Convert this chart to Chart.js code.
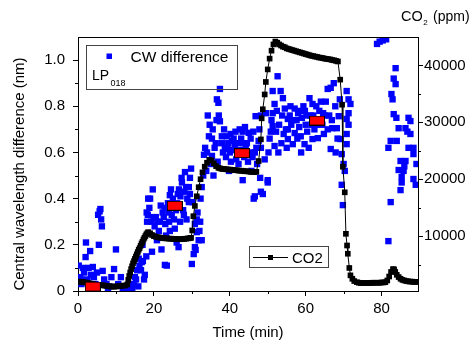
<!DOCTYPE html>
<html>
<head>
<meta charset="utf-8">
<script src="https://cdn.jsdelivr.net/npm/chart.js@4"></script>
<style>
  body { margin: 0; background: #fff; }
  #wrap { width: 473px; height: 342px; }
</style>
</head>
<body>
<div id="wrap"><canvas id="chart" width="473" height="342"></canvas></div>
<script>
// CW difference scatter (time in min, difference in nm)
const cwTime = [
  0.2,0.6,0.9,1.3,1.6,2.0,2.1,2.5,2.8,3.2,
  3.4,3.9,4.2,4.6,5.0,5.3,5.5,5.7,5.9,6.1,
  6.3,6.5,6.9,7.5,8.2,8.8,9.5,10.0,10.6,11.3,
  11.8,12.4,12.9,1.0,4.8,7.9,13.5,14.0,14.3,14.8,
  15.0,15.3,15.6,15.9,16.2,16.6,16.8,17.1,17.4,17.6,
  18.0,18.1,18.2,18.4,18.5,18.8,19.0,19.3,19.5,19.7,
  19.9,16.0,17.0,20.2,20.5,20.9,21.3,21.8,22.0,22.3,
  22.6,22.9,23.2,23.4,23.7,24.0,24.2,24.2,24.7,25.0,
  25.5,25.8,26.0,26.3,26.6,26.9,27.3,27.4,27.7,27.9,
  28.2,28.5,28.8,29.2,29.2,29.5,29.8,30.0,30.2,30.5,
  30.8,30.8,31.0,31.3,31.3,31.8,32.0,32.3,32.6,32.6,
  21.0,23.0,26.5,33.0,33.2,33.5,33.8,34.2,34.5,34.7,
  35.0,35.3,35.3,35.7,36.0,36.3,36.6,37.0,37.1,37.4,
  37.4,37.9,38.2,38.7,39.0,39.2,39.6,40.0,40.3,40.6,
  41.0,41.3,41.7,42.0,42.3,42.6,43.0,43.4,43.4,43.8,
  44.2,44.5,44.8,45.0,45.3,45.7,46.0,46.3,46.6,46.6,
  46.8,47.2,47.6,48.0,48.2,48.2,48.2,48.7,49.2,50.0,
  50.0,39.8,36.8,50.5,51.0,51.3,51.3,51.3,51.8,51.8,
  52.2,52.6,53.0,53.4,53.6,54.0,54.5,54.8,55.3,55.3,
  55.3,55.8,56.2,56.6,57.1,57.1,57.6,58.0,58.3,58.7,
  59.0,59.4,59.7,60.0,60.4,61.0,61.3,61.8,61.8,62.3,
  63.2,63.6,64.0,64.4,64.8,65.3,65.8,65.8,66.2,66.6,
  66.6,67.0,67.4,67.9,68.2,68.7,69.0,69.2,69.5,69.5,
  69.8,70.0,70.3,70.8,70.8,70.8,70.8,71.3,71.3,71.3,
  71.8,49.5,50.2,52.8,56.0,58.8,62.8,60.8,53.8,57.8,
  59.8,63.0,65.0,67.8,55.0,62.0,78.8,79.5,80.3,81.2,
  81.8,81.8,82.4,82.4,82.6,82.9,83.2,83.2,83.7,83.7,
  83.9,84.0,84.5,84.5,85.0,85.0,85.3,85.3,85.8,86.3,
  86.3,86.8,87.1,87.1,87.6,87.6,88.4,88.4,88.4,89.0,
  89.2,86.0,
  20.8,21.6,22.8,23.9,24.5,25.3,26.1,27.0,28.0,28.6,
  29.5,31.5,32.2,38.0,38.5,39.4,40.2,40.8,41.5,42.2,
  42.8,43.6,44.0,45.5,46.2,47.0,47.8,34.0,35.5,36.5,
  50.8,52.4,54.2,56.8,58.5,60.2,61.6,63.8,64.6,66.9,
  68.4
];
const cwDiff = [
  0.11,0.06,0.03,0.10,0.08,0.147,0.21,0.05,0.10,0.173,
  0.07,0.104,0.06,0.03,0.08,0.33,0.20,0.345,0.355,0.31,
  0.28,0.087,0.05,0.03,0.02,0.06,0.095,0.18,0.03,0.06,
  0.01,0.02,0.005,0.05,0.01,0.01,0.01,0.03,0.0,0.025,
  0.06,0.05,0.09,0.02,0.11,0.09,0.125,0.13,0.05,0.07,
  0.15,0.34,0.30,0.33,0.40,0.36,0.40,0.30,0.17,0.44,
  0.32,0.14,0.20,0.28,0.32,0.30,0.26,0.37,0.18,0.34,
  0.32,0.113,0.24,0.11,0.38,0.30,0.415,0.26,0.33,0.40,
  0.27,0.35,0.21,0.42,0.44,0.30,0.49,0.47,0.35,0.33,
  0.515,0.45,0.40,0.45,0.385,0.49,0.53,0.117,0.385,0.16,
  0.19,0.29,0.178,0.255,0.31,0.22,0.26,0.40,0.45,0.22,
  0.23,0.29,0.19,0.50,0.59,0.62,0.52,0.76,0.67,0.72,
  0.55,0.66,0.585,0.50,0.62,0.64,0.83,0.815,0.76,0.875,
  0.735,0.67,0.60,0.615,0.58,0.67,0.64,0.60,0.56,0.65,
  0.66,0.63,0.57,0.60,0.55,0.70,0.66,0.69,0.48,0.58,
  0.62,0.64,0.56,0.685,0.60,0.52,0.58,0.40,0.41,0.60,
  0.757,0.55,0.65,0.49,0.43,0.62,0.76,0.42,0.57,0.47,
  0.48,0.52,0.56,0.66,0.74,0.866,0.77,0.714,0.81,0.628,
  0.69,0.93,0.72,0.866,0.64,0.835,0.79,0.70,0.745,0.70,
  0.658,0.76,0.72,0.636,0.79,0.684,0.74,0.77,0.71,0.67,
  0.75,0.80,0.636,0.72,0.69,0.835,0.76,0.81,0.658,0.70,
  0.662,0.78,0.82,0.72,0.68,0.82,0.875,0.70,0.76,0.88,
  0.615,0.705,0.90,0.60,0.705,0.757,0.83,0.658,0.593,0.46,
  0.372,0.55,0.52,0.866,0.745,0.68,0.636,0.83,0.77,0.72,
  0.81,0.77,0.60,0.60,0.80,0.60,0.80,0.62,0.76,0.66,
  0.78,0.72,0.76,0.80,0.62,0.76,1.07,1.08,1.085,1.09,
  0.216,0.62,0.65,0.385,0.853,0.83,0.92,0.766,0.965,0.896,
  0.75,0.65,0.705,0.524,0.437,0.563,0.494,0.47,0.52,0.705,
  0.563,0.69,0.75,0.62,0.736,0.68,0.62,0.593,0.485,0.46,
  0.55,0.54,
  0.22,0.30,0.36,0.34,0.44,0.31,0.38,0.41,0.43,0.31,
  0.42,0.34,0.30,0.64,0.70,0.62,0.68,0.61,0.69,0.64,
  0.61,0.64,0.71,0.66,0.69,0.62,0.70,0.60,0.70,0.74,
  0.69,0.78,0.68,0.74,0.78,0.76,0.72,0.74,0.77,0.74,
  0.66
];

// mean CW difference per CO2 step (red boxes)
const meanTime = [3.9, 25.5, 43.2, 63.0];
const meanDiff = [0.019, 0.369, 0.597, 0.738];

// CO2 concentration (ppm), right axis
const co2Time = [
  0,0.5,1,1.5,2,2.5,3,3.5,4,4.5,5,5.5,6,6.5,7,7.5,8,8.5,9,9.5,10,10.5,11,11.5,12,12.5,13,
  13.25,13.5,13.75,14,14.25,14.5,14.75,15,15.25,15.5,15.75,16,16.25,16.5,16.75,17,17.25,17.5,17.75,18,18.25,18.5,
  19,19.5,20,20.5,21,21.5,22,22.5,23,23.5,24,24.5,25,25.5,26,26.5,27,27.5,28,28.5,29,29.5,29.8,30.1,
  30.4,30.8,31.3,31.8,32.3,32.8,33.4,34,34.6,35.2,35.8,36.4,
  37,37.5,38,38.5,39,39.5,40,40.5,41,41.5,42,42.5,43,43.5,44,44.5,45,45.5,46,46.5,47,
  47.6,48.2,48.4,48.7,49.2,49.5,50,50.5,51,51.5,
  52,52.5,53,53.5,54,54.5,55,55.5,56,56.5,57,57.5,58,58.5,59,59.5,60,60.5,61,61.5,62,62.5,63,63.5,64,64.5,65,65.5,66,66.5,67,67.5,68,68.5,
  69.1,69.6,69.8,70.3,70.6,70.9,71.1,71.5,71.8,
  72.3,72.8,73.5,74,74.5,75,75.5,76,76.5,77,77.5,78,78.5,79,79.5,80,80.5,81,81.5,82,82.5,83,83.3,83.6,84,84.5,85,85.5,86,86.5,87,87.5,88,88.5,89,89.5
];
const co2Ppm = [
  2000,1980,1950,1900,1850,1780,1700,1620,1550,1480,1420,1400,1380,1350,1300,1250,1200,1150,1130,1120,1140,1180,1220,1260,1300,1320,1500,
  2300,3000,3600,4200,4700,5200,5600,6000,6400,6800,7200,7600,7900,8300,8700,9000,9400,9700,10000,10300,10500,10700,
  10500,10200,10000,9900,9800,9750,9700,9650,9600,9600,9550,9550,9500,9500,9500,9450,9450,9500,9500,9550,9600,9650,9700,11000,
  13500,15300,17000,18600,20000,21200,22200,22900,23400,23300,22800,22300,
  22000,21900,21800,21800,21750,21700,21700,21650,21600,21600,21550,21500,21500,21450,21400,21400,21350,21300,21300,21250,21300,
  23200,27000,30700,32300,34900,37100,39300,41200,42600,43700,
  44200,44000,43700,43500,43300,43200,43000,42900,42800,42700,42600,42500,42400,42300,42200,42100,42000,41900,41800,41700,41650,41550,41500,41400,41350,41300,41200,41150,41100,41050,40950,40900,40800,40700,
  37500,33100,22200,17700,10400,8350,6900,4400,3100,
  2500,2100,1900,1800,1750,1750,1750,1750,1750,1750,1800,1800,1800,1800,1800,1850,1850,1900,2200,2900,3700,4200,4150,3700,3200,2800,2500,2300,2200,2100,2050,2000,2000,1950,1950,1950
];

// ticks
const xMajor = [0, 20, 40, 60, 80];
const xMinor = [10, 30, 50, 70];
const yMajor = [0, 0.2, 0.4, 0.6, 0.8, 1.0];
const yMinor = [0.1, 0.3, 0.5, 0.7, 0.9];
const y1Major = [10000, 20000, 30000, 40000];
const y1Minor = [5000, 15000, 25000, 35000];

const FONT = "'Liberation Sans', Arial, sans-serif";
Chart.defaults.font.family = FONT;
Chart.defaults.color = '#000';

// red box used as point style for the means
let meanBox = document.createElement('canvas');
meanBox.width = 16;
meanBox.height = 10;
let mctx = meanBox.getContext('2d');
mctx.fillStyle = '#ff0000';
mctx.fillRect(0, 0, 16, 10);
mctx.strokeStyle = '#000';
mctx.lineWidth = 1;
mctx.strokeRect(0.5, 0.5, 15, 9);

function toPoints(xs, ys) {
    let pts = [];
    for (let i = 0; i < xs.length; i++) {
        pts.push({x: xs[i], y: ys[i]});
    }
    return pts;
}

// minor ticks, top frame line, axis titles and the two legend boxes
const decorations = {
    id: 'decorations',
    afterDraw(chart) {
        const ctx = chart.ctx;
        const area = chart.chartArea;
        const sx = chart.scales.x, sy = chart.scales.y, sy1 = chart.scales.y1;
        ctx.save();
        ctx.strokeStyle = '#000';
        ctx.lineWidth = 1;
        ctx.beginPath();
        ctx.moveTo(area.left, Math.round(area.top) + 0.5);
        ctx.lineTo(area.right, Math.round(area.top) + 0.5);
        xMinor.forEach(v => {
            let px = Math.round(sx.getPixelForValue(v)) + 0.5;
            ctx.moveTo(px, area.bottom);
            ctx.lineTo(px, area.bottom + 3);
        });
        yMinor.forEach(v => {
            let py = Math.round(sy.getPixelForValue(v)) + 0.5;
            ctx.moveTo(area.left, py);
            ctx.lineTo(area.left - 3, py);
        });
        y1Minor.forEach(v => {
            let py = Math.round(sy1.getPixelForValue(v)) + 0.5;
            ctx.moveTo(area.right, py);
            ctx.lineTo(area.right + 3, py);
        });
        ctx.stroke();

        ctx.fillStyle = '#000';
        // axis titles
        ctx.font = '15px ' + FONT;
        ctx.textAlign = 'center';
        ctx.textBaseline = 'alphabetic';
        ctx.fillText('Time (min)', 248, 337);
        ctx.save();
        ctx.translate(24, 174);
        ctx.rotate(-Math.PI / 2);
        ctx.fillText('Central wavelength difference (nm)', 0, 0);
        ctx.restore();

        ctx.textAlign = 'left';
        ctx.font = '14.5px ' + FONT;
        ctx.fillText('CO', 401, 21);
        let w = ctx.measureText('CO').width;
        ctx.font = '8px ' + FONT;
        ctx.fillText('2', 401 + w + 0.5, 25);
        ctx.font = '14px ' + FONT;
        ctx.fillText('(ppm)', 433, 21);

        // legend box: CW difference
        let cw = chart.data.datasets[2];
        ctx.strokeStyle = '#444';
        ctx.strokeRect(86.5, 45.5, 151, 44);
        ctx.fillStyle = cw.backgroundColor;
        ctx.fillRect(106.5, 53.5, 5.5, 5.5);
        ctx.fillStyle = '#000';
        ctx.font = '15.5px ' + FONT;
        ctx.fillText(cw.label, 130.5, 61.5);
        ctx.font = '14px ' + FONT;
        ctx.fillText('LP', 92, 80);
        ctx.font = '9px ' + FONT;
        ctx.fillText('018', 110.5, 85.5);

        // legend box: CO2
        let co2 = chart.data.datasets[1];
        ctx.strokeStyle = '#444';
        ctx.strokeRect(249.5, 246.5, 79, 21);
        ctx.strokeStyle = co2.borderColor;
        ctx.beginPath();
        ctx.moveTo(253, 257.5);
        ctx.lineTo(288, 257.5);
        ctx.stroke();
        ctx.fillStyle = co2.pointBackgroundColor;
        ctx.fillRect(268, 255, 5, 5);
        ctx.fillStyle = '#000';
        ctx.font = '15px ' + FONT;
        ctx.fillText(co2.label, 292, 262.5);
        ctx.restore();
    }
};

const ctx = document.getElementById('chart').getContext('2d');

new Chart(ctx, {
    type: 'scatter',
    data: {
        datasets: [{
            label: 'mean',
            data: toPoints(meanTime, meanDiff),
            pointStyle: meanBox,
            yAxisID: 'y',
            order: 1
        }, {
            label: 'CO2',
            data: toPoints(co2Time, co2Ppm),
            showLine: true,
            borderColor: '#000',
            borderWidth: 1,
            pointStyle: 'rect',
            pointRadius: 4,
            pointBackgroundColor: '#000',
            pointBorderWidth: 0,
            yAxisID: 'y1',
            order: 2
        }, {
            label: 'CW difference',
            data: toPoints(cwTime, cwDiff),
            backgroundColor: '#0000ff',
            borderColor: '#0000ff',
            pointStyle: 'rect',
            pointRadius: 4.5,
            pointBorderWidth: 0,
            yAxisID: 'y',
            order: 3
        }]
    },
    options: {
        responsive: false,
        animation: false,
        events: [],
        layout: { padding: { top: 37, left: 0, right: 0, bottom: 0 } },
        plugins: {
            legend: { display: false },
            tooltip: { enabled: false }
        },
        scales: {
            x: {
                type: 'linear',
                position: 'bottom',
                min: 0,
                max: 89.6,
                afterBuildTicks: s => { s.ticks = xMajor.map(v => ({value: v})); },
                afterFit: s => { s.height = 51; },
                ticks: { font: { size: 15 }, padding: 4, maxRotation: 0 },
                grid: { drawOnChartArea: false, tickLength: 5, color: '#000' },
                border: { color: '#000', width: 1 }
            },
            y: {
                type: 'linear',
                position: 'left',
                min: 0,
                max: 1.1,
                afterBuildTicks: s => { s.ticks = yMajor.map(v => ({value: v})); },
                afterFit: s => { s.width = 78; },
                ticks: {
                    font: { size: 15 },
                    padding: 8,
                    callback: v => v === 0 ? '0' : v.toFixed(1)
                },
                grid: { drawOnChartArea: false, tickLength: 5, color: '#000' },
                border: { color: '#000', width: 1 }
            },
            y1: {
                type: 'linear',
                position: 'right',
                min: 350,
                max: 45000,
                afterBuildTicks: s => { s.ticks = y1Major.map(v => ({value: v})); },
                afterFit: s => { s.width = 55; },
                ticks: {
                    font: { size: 15 },
                    padding: 1,
                    callback: v => String(v)
                },
                grid: { drawOnChartArea: false, tickLength: 5, color: '#000' },
                border: { color: '#000', width: 1 }
            }
        }
    },
    plugins: [decorations]
});
</script>
</body>
</html>
